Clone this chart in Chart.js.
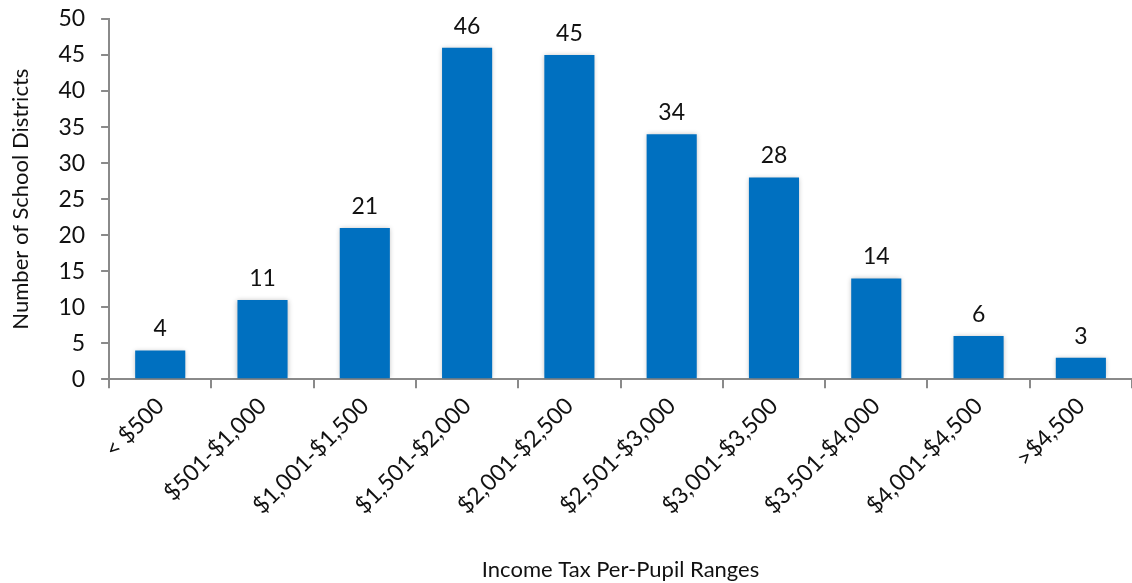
<!DOCTYPE html>
<html>
<head>
<meta charset="utf-8">
<script src="https://cdn.jsdelivr.net/npm/chart.js@4/dist/chart.umd.min.js"></script>
<style>
  html, body { margin: 0; padding: 0; background: #fff; }
  #wrap { width: 1132px; height: 583px; }
</style>
</head>
<body>
<div id="wrap"><canvas id="taxChart"></canvas></div>
<script>
const ranges = [
  "< $500", "$501-$1,000", "$1,001-$1,500", "$1,501-$2,000", "$2,001-$2,500",
  "$2,501-$3,000", "$3,001-$3,500", "$3,501-$4,000", "$4,001-$4,500", ">$4,500"
];
const districts = [4, 11, 21, 46, 45, 34, 28, 14, 6, 3];

const axisGray = "#8a8a8a";
const font = { family: "Lato, 'Liberation Sans', sans-serif", size: 23 };

// soft shadow around the bars
const barShadow = {
  id: "barShadow",
  beforeDatasetsDraw(chart) {
    const c = chart.ctx;
    c.save();
    c.shadowColor = "rgba(0, 0, 0, 0.28)";
    c.shadowBlur = 5;
    c.shadowOffsetX = 0;
    c.shadowOffsetY = 0;
  },
  afterDatasetsDraw(chart) {
    chart.ctx.restore();
  }
};

// value written above each bar
const valueLabels = {
  id: "valueLabels",
  afterDatasetsDraw(chart) {
    const c = chart.ctx;
    const meta = chart.getDatasetMeta(0);
    c.save();
    c.font = `${font.size}px ${font.family}`;
    c.fillStyle = "#111";
    c.textAlign = "center";
    c.textBaseline = "bottom";
    meta.data.forEach((bar, i) => {
      c.fillText(String(districts[i]), bar.x, bar.y - 10);
    });
    c.restore();
  }
};

new Chart(document.getElementById("taxChart"), {
  type: "bar",
  data: {
    labels: ranges,
    datasets: [{
      data: districts,
      backgroundColor: "#0070c0",
      borderWidth: 0,
      barPercentage: 0.49,
      categoryPercentage: 1
    }]
  },
  options: {
    responsive: true,
    maintainAspectRatio: false,
    animation: false,
    layout: { padding: { top: 0, right: 0, left: 8, bottom: 0 } },
    plugins: {
      legend: { display: false },
      tooltip: { enabled: false }
    },
    scales: {
      x: {
        grid: {
          display: true,
          drawOnChartArea: false,
          drawTicks: true,
          tickLength: 9,
          color: axisGray,
          lineWidth: 2
        },
        border: { color: axisGray, width: 2 },
        ticks: {
          color: "#111",
          font: font,
          minRotation: 45,
          maxRotation: 45,
          padding: 4,
          autoSkip: false
        },
        title: {
          display: true,
          text: "Income Tax Per-Pupil Ranges",
          color: "#111",
          font: { family: font.family, size: 22 },
          padding: { top: 33, bottom: 0 }
        }
      },
      y: {
        min: 0,
        max: 50,
        // keep the top of the axis close to the edge; the label padding
        // would otherwise push it down
        afterFit(scale) {
          scale.paddingTop = 19;
          scale.paddingBottom = 14;
        },
        ticks: {
          stepSize: 5,
          color: "#111",
          font: font,
          padding: 16
        },
        grid: {
          display: true,
          drawOnChartArea: false,
          drawTicks: true,
          tickLength: 8,
          color: axisGray,
          lineWidth: 2
        },
        border: { color: axisGray, width: 2 },
        title: {
          display: true,
          text: "Number of School Districts",
          color: "#111",
          font: { family: font.family, size: 22 },
          padding: { top: 0, bottom: 8 }
        }
      }
    }
  },
  plugins: [barShadow, valueLabels]
});
</script>
</body>
</html>
